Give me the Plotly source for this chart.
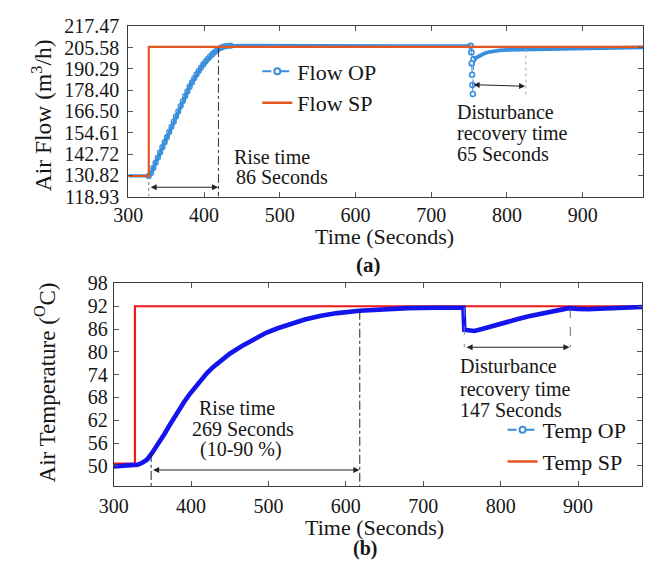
import plotly.graph_objects as go

# ---------------- (a) air flow loop ----------------
flow_time = [300, 310, 320, 327, 330, 333, 336, 339, 342, 345, 348, 351, 354, 357,
             360, 363, 366, 369, 372, 375, 378, 381, 384, 387, 390, 393, 396, 399,
             402, 405, 408, 411, 414, 417, 420, 423, 426, 430, 435, 450, 475, 500,
             550, 600, 650, 700, 750, 752,
             753, 753.5, 754, 754.5, 755,
             756, 758, 761, 765, 770, 775, 780, 790, 800, 812, 825, 850, 880,
             920, 950, 980]
flow_op = [130.9, 130.9, 130.9, 130.9, 132.5, 135.5, 138.5, 141.5, 144.5, 147.5,
           150.4, 153.3, 156.3, 159.3, 162.3, 165.3, 168.3, 171.3, 174.2, 177.0,
           179.8, 182.5, 185.0, 187.4, 189.6, 191.7, 193.6, 195.4, 197.1, 198.7,
           200.1, 201.4, 202.6, 203.7, 204.6, 205.3, 205.8, 206.1, 206.3, 206.4,
           206.3, 206.3, 206.2, 206.2, 206.1, 206.2, 206.2, 206.2,
           202.4, 196.0, 189.5, 183.5, 178.3,
           198.6, 199.1, 199.8, 200.8, 201.8, 202.5, 203.0, 203.6, 203.9, 204.0,
           204.1, 204.5, 204.9, 205.2, 205.3, 205.3]
RISE_START, RISE_END = 3, 38           # indices of the ramp after the setpoint step
DROP_START, DROP_END = 47, 53          # indices bounding the fast dip

flow_sp_time = [300, 327, 980]
flow_sp = [130.82, 205.58, 205.58]

flow_tick_text = ["118.93", "130.82", "142.72", "154.61", "166.50",
                  "178.40", "190.29", "205.58", "217.47"]
FLOW_MIN, FLOW_MAX = 118.93, 217.47

# ---------------- (b) air temperature loop ----------------
temp_time = [300, 315, 327, 331, 337, 343, 349, 355, 360, 366, 372, 378, 384, 391,
             398, 405, 412, 420, 428, 438, 450, 467, 482, 497, 512, 526, 547, 568,
             589, 618, 650, 680, 715, 752, 753, 766, 776, 787, 803, 820, 835, 850,
             865, 879, 888, 900, 913, 935, 955, 983]
temp_op = [49.8, 50.0, 50.0, 50.3, 50.8, 51.6, 53.2, 54.9, 56.6, 58.5, 60.6, 62.7,
           64.7, 66.8, 68.8, 70.7, 72.5, 74.3, 75.9, 77.7, 79.5, 81.7, 83.5, 85.0,
           86.2, 87.2, 88.5, 89.5, 90.2, 90.8, 91.2, 91.5, 91.6, 91.6, 85.8, 85.5,
           86.0, 86.7, 87.6, 88.5, 89.3, 90.0, 90.7, 91.2, 91.5, 91.3, 91.2, 91.4,
           91.5, 91.8]

temp_sp_time = [300, 327.5, 983]
temp_sp = [50.6, 92, 92]

temp_ticks = [50, 56, 62, 68, 74, 80, 86, 92, 98]

# ---------------- styling ----------------
FONT = "Liberation Serif"
INK = "#161616"
OP_LIGHT = "#3a8fdc"
SP_ORANGE = "#e4561f"
TEMP_BLUE = "#1414ee"
TEMP_RED = "#f01818"

fig = go.Figure()

# Flow OP: dense samples drawn as a thick line, ramp samples as open circles,
# and the fast dip as sparse markers on a thin dashed line
fig.add_trace(go.Scatter(
    x=flow_time[:DROP_START + 1], y=flow_op[:DROP_START + 1], mode="lines",
    line=dict(color=OP_LIGHT, width=3.4),
    showlegend=False, xaxis="x", yaxis="y"))
fig.add_trace(go.Scatter(
    x=flow_time[RISE_START:RISE_END + 1], y=flow_op[RISE_START:RISE_END + 1],
    mode="markers",
    marker=dict(symbol="circle-open", size=5, color=OP_LIGHT, line=dict(width=1.3)),
    showlegend=False, xaxis="x", yaxis="y"))
fig.add_trace(go.Scatter(
    x=flow_time[DROP_START:DROP_END + 1], y=flow_op[DROP_START:DROP_END + 1],
    mode="lines+markers", line=dict(color=OP_LIGHT, width=1, dash="dash"),
    marker=dict(symbol="circle-open", size=5, color=OP_LIGHT, line=dict(width=1.6)),
    showlegend=False, xaxis="x", yaxis="y"))
fig.add_trace(go.Scatter(
    x=flow_time[DROP_END:], y=flow_op[DROP_END:], mode="lines",
    line=dict(color=OP_LIGHT, width=3.8),
    showlegend=False, xaxis="x", yaxis="y"))
fig.add_trace(go.Scatter(
    x=flow_sp_time, y=flow_sp, mode="lines", line=dict(color=SP_ORANGE, width=2.2, shape="hv"),
    showlegend=False, xaxis="x", yaxis="y"))

# Temperature traces
fig.add_trace(go.Scatter(
    x=temp_sp_time, y=temp_sp, mode="lines", line=dict(color=TEMP_RED, width=2.2, shape="hv"),
    showlegend=False, xaxis="x2", yaxis="y2"))
fig.add_trace(go.Scatter(
    x=temp_time, y=temp_op, mode="lines",
    line=dict(color=TEMP_BLUE, width=4.6),
    showlegend=False, xaxis="x2", yaxis="y2"))

# legend entries
legend_op = dict(color=OP_LIGHT, width=2, dash="dash")
legend_mk = dict(symbol="circle-open", size=6, color=OP_LIGHT, line=dict(width=2))
fig.add_trace(go.Scatter(x=[None], y=[None], mode="lines+markers", name="Flow OP",
                         line=legend_op, marker=legend_mk, legend="legend",
                         xaxis="x", yaxis="y"))
fig.add_trace(go.Scatter(x=[None], y=[None], mode="lines", name="Flow SP",
                         line=dict(color=SP_ORANGE, width=2.5), legend="legend",
                         xaxis="x", yaxis="y"))
fig.add_trace(go.Scatter(x=[None], y=[None], mode="lines+markers", name="Temp OP",
                         line=legend_op, marker=legend_mk, legend="legend2",
                         xaxis="x2", yaxis="y2"))
fig.add_trace(go.Scatter(x=[None], y=[None], mode="lines", name="Temp SP",
                         line=dict(color=SP_ORANGE, width=2.5), legend="legend2",
                         xaxis="x2", yaxis="y2"))

# guide lines
def vline(xref, yref, x, y0, y1, dash, color):
    fig.add_shape(type="line", xref=xref, yref=yref, x0=x, x1=x, y0=y0, y1=y1,
                  line=dict(color=color, width=1, dash=dash))

vline("x", "y", 327, 130.8, FLOW_MIN, "dot", "#777777")
vline("x", "y", 419, 205.0, FLOW_MIN, "dashdot", "#333333")
vline("x", "y", 825, 204.1, 178.0, "dot", "#aaaaaa")

vline("x2", "y2", 348.4, 53.4, 44.7, "dashdot", "#222222")
vline("x2", "y2", 618, 90.8, 44.7, "dashdot", "#222222")
vline("x2", "y2", 753, 91.6, 81.2, "dash", "#5a7fd8")
vline("x2", "y2", 890, 91.3, 81.2, "dash", "#666666")

# double-headed span arrows
def span(xref, yref, x0, y0, x1, y1):
    fig.add_annotation(xref=xref, yref=yref, x=x1, y=y1, ax=x0, ay=y0,
                       axref=xref, ayref=yref, showarrow=True, text="",
                       arrowside="end+start", arrowhead=2, arrowsize=1.1,
                       arrowwidth=1.1, arrowcolor="#222222")

span("x", "y", 327.5, 124.3, 418.5, 124.3)
span("x", "y", 754, 183.7, 824, 182.8)
span("x2", "y2", 349, 48.9, 617.5, 48.9)
span("x2", "y2", 754, 81.2, 889, 81.2)

# in-plot text
def note(xref, yref, x, y, text, anchor="left"):
    fig.add_annotation(xref=xref, yref=yref, x=x, y=y, text=text, showarrow=False,
                       xanchor=anchor, yanchor="middle",
                       font=dict(family=FONT, size=20, color=INK))

note("x", "y", 437, 141.8, "Rise time")
note("x", "y", 440, 130.1, "86 Seconds")
note("x", "y", 731, 167.9, "Disturbance")
note("x", "y", 731, 155.7, "recovery time")
note("x", "y", 731, 143.4, "65 Seconds")

note("x2", "y2", 460, 65.3, "Rise time", "center")
note("x2", "y2", 466.5, 59.8, "269 Seconds", "center")
note("x2", "y2", 464, 54.3, "(10-90 %)", "center")
note("x2", "y2", 745.5, 76.2, "Disturbance")
note("x2", "y2", 745.5, 70.1, "recovery time")
note("x2", "y2", 745.5, 64.6, "147 Seconds")

# axis titles and panel captions
def paper_text(x, y, text, size, angle=0):
    fig.add_annotation(xref="paper", yref="paper", x=x, y=y, text=text, showarrow=False,
                       xanchor="center", yanchor="middle", textangle=angle,
                       font=dict(family=FONT, size=size, color=INK))

W, H = 653, 570
paper_text(378 / W, 1 - 235 / H, "Time (Seconds)", 22)
paper_text(362 / W, 1 - 264 / H, "<b>(a)</b>", 21)
paper_text(368 / W, 1 - 537 / H, "Time (Seconds)", 22)
paper_text(358 / W, 1 - 559 / H, "<b>(b)</b>", 20)
paper_text(27 / W, 1 - 108 / H, "Air Flow (m<sup>3</sup>/h)", 23.5, -90)
paper_text(31 / W, 1 - 386 / H, "Air Temperature (<sup>O</sup>C)", 23, -90)

step = (FLOW_MAX - FLOW_MIN) / (len(flow_tick_text) - 1)
flow_tick_vals = [FLOW_MIN + i * step for i in range(len(flow_tick_text))]

axis_common = dict(showline=True, linecolor="#3a3a3a", linewidth=1, mirror="ticks",
                   ticks="inside", ticklen=5, tickcolor="#555555", tickwidth=1,
                   showgrid=False, zeroline=False,
                   tickfont=dict(family=FONT, size=20, color=INK))

fig.update_layout(
    width=W, height=H, margin=dict(l=0, r=0, t=0, b=0),
    paper_bgcolor="white", plot_bgcolor="white",
    font=dict(family=FONT, color=INK),
    xaxis=dict(domain=[116 / W, 643 / W], anchor="y", range=[300, 980],
               tickvals=[300, 400, 500, 600, 700, 800, 900], ticklabelstandoff=0,
               **axis_common),
    yaxis=dict(domain=[1 - 193 / H, 1 - 16 / H], anchor="x", range=[FLOW_MIN, FLOW_MAX],
               tickvals=flow_tick_vals, ticktext=flow_tick_text, ticklabelstandoff=4,
               **axis_common),
    xaxis2=dict(domain=[101 / W, 642 / W], anchor="y2", range=[300, 983],
                tickvals=[300, 400, 500, 600, 700, 800, 900], ticklabelstandoff=2,
                **axis_common),
    yaxis2=dict(domain=[1 - 494 / H, 1 - 283 / H], anchor="x2", range=[44.7, 98.1],
                tickvals=temp_ticks, ticklabelstandoff=1, **axis_common),
    legend=dict(x=248 / W, y=1 - 41 / H, xanchor="left", yanchor="top",
                bgcolor="rgba(0,0,0,0)", borderwidth=0,
                font=dict(family=FONT, size=22, color=INK), tracegroupgap=0),
    legend2=dict(x=499 / W, y=1 - 414 / H, xanchor="left", yanchor="top",
                 bgcolor="rgba(0,0,0,0)", borderwidth=0,
                 font=dict(family=FONT, size=22, color=INK), tracegroupgap=0),
)

fig.write_html("out.html")
